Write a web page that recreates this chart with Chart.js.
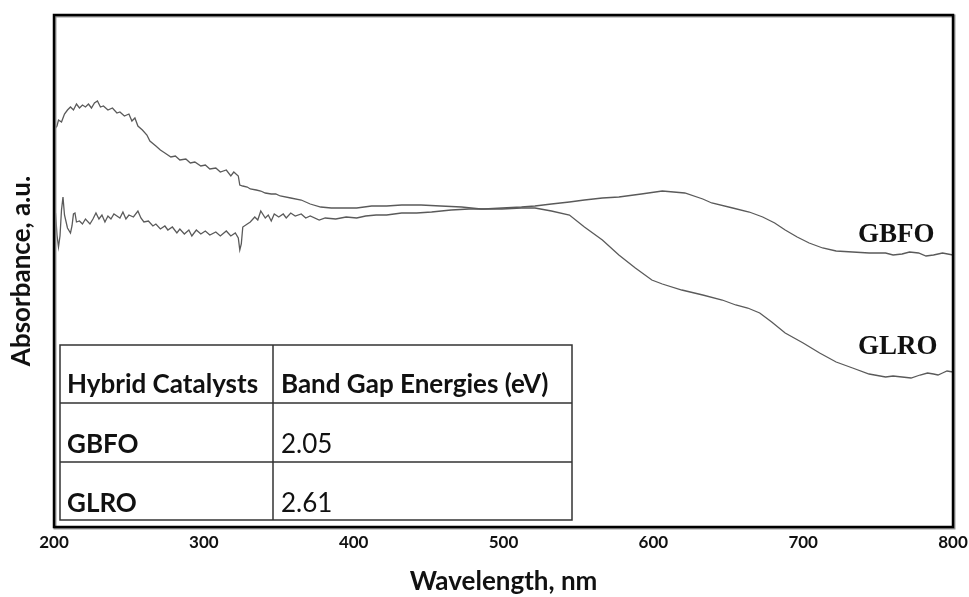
<!DOCTYPE html>
<html>
<head>
<meta charset="utf-8">
<script src="https://cdn.jsdelivr.net/npm/chart.js@4.4.0/dist/chart.umd.min.js"></script>
<style>
  html, body { margin: 0; padding: 0; background: #fff; }
  #wrap { width: 969px; height: 597px; }
</style>
</head>
<body>
<div id="wrap"><canvas id="grafico" width="969" height="597"></canvas></div>
<script>
// x ticks
const xTicks = [200, 300, 400, 500, 600, 700, 800];

// GLRO (upper curve at left, falls after ~540 nm)
const glroNm = [201, 202, 203, 205, 207, 209, 211, 213, 215, 217, 219, 221, 223, 225, 227, 229, 231, 233, 236, 239,
  242, 244, 247, 250, 252, 254, 256, 259, 262, 264, 268, 271, 274, 278, 281, 284, 288, 291, 294, 298,
  301, 304, 308, 311, 315, 318, 320, 323, 324, 326, 329, 331, 335, 338, 341, 345, 348, 351, 358, 365,
  371, 378, 385, 392, 402, 412, 422, 432, 445, 458, 472, 485, 499, 512, 521, 532, 544, 554, 566, 577,
  588, 599, 606, 619, 633, 646, 655, 663, 671, 679, 688, 700, 711, 722, 733, 744, 755, 760, 766, 772,
  778, 783, 787, 790, 793, 796, 800];
const glroAbs = [1.995, 2.005, 2.035, 2.025, 2.065, 2.085, 2.100, 2.085, 2.115, 2.095, 2.110, 2.100, 2.115, 2.095, 2.120, 2.130, 2.100, 2.105, 2.085, 2.095,
  2.070, 2.075, 2.055, 2.065, 2.030, 2.045, 2.005, 1.985, 1.960, 1.930, 1.905, 1.885, 1.870, 1.850, 1.855, 1.835, 1.840, 1.820, 1.825, 1.805,
  1.810, 1.790, 1.795, 1.775, 1.785, 1.755, 1.775, 1.755, 1.710, 1.705, 1.700, 1.690, 1.685, 1.680, 1.670, 1.665, 1.665, 1.655, 1.645, 1.635,
  1.615, 1.600, 1.595, 1.595, 1.595, 1.605, 1.605, 1.610, 1.610, 1.605, 1.600, 1.590, 1.590, 1.595, 1.595, 1.580, 1.560, 1.500, 1.435, 1.360,
  1.295, 1.235, 1.215, 1.185, 1.160, 1.135, 1.110, 1.095, 1.070, 1.025, 0.970, 0.920, 0.870, 0.825, 0.795, 0.765, 0.750, 0.755, 0.750, 0.745,
  0.760, 0.770, 0.765, 0.760, 0.770, 0.780, 0.775];

// GBFO (lower curve at left, peaks ~605 nm)
const gbfoNm = [201, 202, 203, 204, 205, 206, 207, 209, 211, 212, 213, 214, 215, 217, 219, 221, 224, 226, 228, 230,
  232, 234, 236, 238, 240, 242, 244, 246, 248, 250, 253, 256, 258, 260, 263, 266, 268, 271, 274, 276,
  279, 282, 284, 287, 290, 292, 295, 298, 301, 304, 308, 311, 315, 318, 321, 323, 324, 325, 326, 329,
  331, 334, 336, 338, 341, 343, 345, 347, 350, 353, 355, 358, 361, 365, 368, 371, 377, 381, 388, 395,
  402, 408, 415, 422, 432, 442, 452, 465, 477, 487, 499, 512, 521, 532, 544, 554, 566, 577, 592, 606,
  621, 633, 639, 653, 664, 673, 681, 688, 696, 704, 713, 722, 733, 744, 755, 760, 766, 771, 777, 782,
  787, 793, 800];
const gbfoAbs = [1.570, 1.460, 1.400, 1.455, 1.585, 1.650, 1.560, 1.495, 1.470, 1.505, 1.565, 1.570, 1.525, 1.530, 1.515, 1.540, 1.515, 1.540, 1.570, 1.540,
  1.560, 1.525, 1.555, 1.540, 1.565, 1.555, 1.545, 1.575, 1.540, 1.560, 1.550, 1.580, 1.545, 1.525, 1.530, 1.505, 1.515, 1.490, 1.505, 1.485,
  1.500, 1.470, 1.490, 1.465, 1.485, 1.455, 1.485, 1.465, 1.480, 1.460, 1.475, 1.455, 1.480, 1.455, 1.470, 1.445, 1.385, 1.415, 1.500, 1.515,
  1.525, 1.550, 1.535, 1.580, 1.545, 1.560, 1.530, 1.565, 1.550, 1.565, 1.545, 1.570, 1.555, 1.565, 1.545, 1.555, 1.535, 1.545, 1.540, 1.550,
  1.545, 1.555, 1.560, 1.560, 1.570, 1.570, 1.575, 1.585, 1.590, 1.590, 1.595, 1.600, 1.605, 1.615, 1.625, 1.635, 1.645, 1.650, 1.665, 1.680,
  1.670, 1.640, 1.620, 1.595, 1.575, 1.550, 1.520, 1.485, 1.450, 1.420, 1.395, 1.380, 1.375, 1.370, 1.370, 1.360, 1.365, 1.375, 1.370, 1.355,
  1.360, 1.370, 1.360];

// inset table
const tablaCabecera = ['Hybrid Catalysts', 'Band Gap Energies (eV)'];
const tablaMuestras = ['GBFO', 'GLRO'];
const tablaEnergias = ['2.05', '2.61'];

function aPuntos(xs, ys) {
    return xs.map((x, i) => ({ x: x, y: ys[i] }));
}

// marco, tabla y etiquetas
const extras = {
    id: 'extras',
    afterDraw(chart) {
        const ctx = chart.ctx;
        const a = chart.chartArea;
        ctx.save();

        // tabla
        const tx = a.left + 6, ty = a.top + 330, tw = 512, th = 175;
        const col = tx + 213;
        const r1 = ty + 58, r2 = ty + 117;
        ctx.fillStyle = '#fff';
        ctx.fillRect(tx, ty, tw, th);
        ctx.strokeStyle = '#333';
        ctx.lineWidth = 1.5;
        ctx.strokeRect(tx, ty, tw, th);
        ctx.beginPath();
        ctx.moveTo(col, ty); ctx.lineTo(col, ty + th);
        ctx.moveTo(tx, r1); ctx.lineTo(tx + tw, r1);
        ctx.moveTo(tx, r2); ctx.lineTo(tx + tw, r2);
        ctx.stroke();

        ctx.fillStyle = '#111';
        ctx.textBaseline = 'alphabetic';
        ctx.textAlign = 'left';
        ctx.font = 'bold 26px Lato';
        ctx.fillText(tablaCabecera[0], tx + 7, ty + 48);
        ctx.fillText(tablaCabecera[1], col + 8, ty + 48);
        ctx.fillText(tablaMuestras[0], tx + 7, ty + 108);
        ctx.fillText(tablaMuestras[1], tx + 7, ty + 167);
        ctx.font = '26px Lato';
        ctx.fillText(tablaEnergias[0], col + 8, ty + 108);
        ctx.fillText(tablaEnergias[1], col + 8, ty + 167);

        // etiquetas de series
        ctx.font = 'bold 27px "Liberation Serif"';
        ctx.textBaseline = 'middle';
        ctx.fillText('GBFO', a.left + 804, a.top + 220);
        ctx.fillText('GLRO', a.left + 804, a.top + 332);

        // marco del grafico
        ctx.strokeStyle = '#999';
        ctx.lineWidth = 3;
        ctx.strokeRect(a.left + 1, a.top + 1, a.right - a.left, a.bottom - a.top);
        ctx.strokeStyle = '#000';
        ctx.lineWidth = 2.5;
        ctx.strokeRect(a.left, a.top, a.right - a.left, a.bottom - a.top);
        ctx.restore();
    }
};

const grafico = document.getElementById('grafico');

new Chart(grafico, {
    type: 'line',
    data: {
        datasets: [{
            label: 'GLRO',
            data: aPuntos(glroNm, glroAbs),
            borderColor: '#5a5a5a',
            borderWidth: 1.3,
            pointRadius: 0,
            tension: 0
        }, {
            label: 'GBFO',
            data: aPuntos(gbfoNm, gbfoAbs),
            borderColor: '#5a5a5a',
            borderWidth: 1.3,
            pointRadius: 0,
            tension: 0
        }]
    },
    options: {
        responsive: false,
        animation: false,
        layout: { padding: { left: 0, right: 16, top: 15, bottom: 0 } },
        plugins: {
            legend: { display: false },
            tooltip: { enabled: false }
        },
        scales: {
            x: {
                type: 'linear',
                min: 200,
                max: 800,
                afterBuildTicks: s => { s.ticks = xTicks.map(v => ({ value: v })); },
                afterFit: s => { s.height = 70; s.paddingLeft = 0; s.paddingRight = 0; },
                grid: { display: false, drawTicks: false },
                border: { display: false },
                ticks: {
                    padding: 5,
                    color: '#111',
                    font: { family: 'Lato', size: 17, weight: 'bold' }
                },
                title: {
                    display: true,
                    text: 'Wavelength, nm',
                    color: '#111',
                    padding: { top: 2, bottom: 0 },
                    font: { family: 'Lato', size: 26, weight: 'bold' }
                }
            },
            y: {
                min: 0,
                max: 2.56,
                afterFit: s => { s.width = 54; },
                grid: { display: false, drawTicks: false },
                border: { display: false },
                ticks: { display: false },
                title: {
                    display: true,
                    text: 'Absorbance, a.u.',
                    color: '#111',
                    padding: { top: 6, bottom: 0 },
                    font: { family: 'Lato', size: 26, weight: 'bold' }
                }
            }
        }
    },
    plugins: [extras]
});
</script>
</body>
</html>
